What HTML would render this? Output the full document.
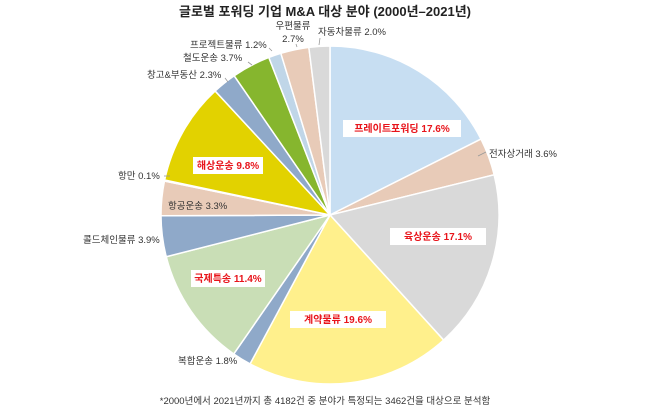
<!DOCTYPE html>
<html><head><meta charset="utf-8"><style>
body{margin:0;background:#fff;width:650px;height:412px;overflow:hidden;font-family:"Liberation Sans","Noto Sans CJK KR",sans-serif}
svg text{font-family:"Liberation Sans","Noto Sans CJK KR",sans-serif}
</style></head><body>
<svg id="s" width="650" height="412" xmlns="http://www.w3.org/2000/svg">
<text x="325" y="16" text-anchor="middle" font-size="13" font-weight="bold" fill="#222">글로벌 포워딩 기업 M&amp;A 대상 분야 (2000년–2021년)</text>
<g id="pie"></g>
<g stroke="#999" stroke-width="0.8">
<line x1="486" y1="152" x2="478" y2="156"/>
<line x1="164" y1="176" x2="170" y2="176"/>
<line x1="225" y1="78" x2="228" y2="82"/>
<line x1="248" y1="62" x2="252" y2="65"/>
<line x1="269" y1="48" x2="272" y2="51"/>
<line x1="296" y1="44" x2="297" y2="47"/>
<line x1="320" y1="38" x2="319" y2="45"/>
</g>
<g font-size="9.5" fill="#333">
<text x="489" y="157">전자상거래 3.6%</text>
<text x="178" y="364">복합운송 1.8%</text>
<text x="83" y="243">콜드체인물류 3.9%</text>
<text x="168" y="209">항공운송 3.3%</text>
<text x="118" y="179">항만 0.1%</text>
<text x="147" y="78">창고&amp;부동산 2.3%</text>
<text x="183" y="61">철도운송 3.7%</text>
<text x="190" y="48">프로젝트물류 1.2%</text>
<text x="293" y="29" text-anchor="middle">우편물류</text>
<text x="293" y="42" text-anchor="middle">2.7%</text>
<text x="318" y="35">자동차물류 2.0%</text>
</g>
<g font-size="10" font-weight="bold" fill="#e8141b" text-anchor="middle">
<rect x="343" y="120" width="118" height="17" fill="#fff"/><text x="402" y="132">프레이트포워딩 17.6%</text>
<rect x="390" y="228" width="96" height="17" fill="#fff"/><text x="438" y="240">육상운송 17.1%</text>
<rect x="290" y="311" width="96" height="17" fill="#fff"/><text x="338" y="323">계약물류 19.6%</text>
<rect x="191" y="270" width="74" height="17" fill="#fff"/><text x="228" y="282">국제특송 11.4%</text>
<rect x="193" y="157" width="70" height="17" fill="#fff"/><text x="228" y="169">해상운송 9.8%</text>
</g>
<text x="325" y="404" text-anchor="middle" font-size="9.5" fill="#333">*2000년에서 2021년까지 총 4182건 중 분야가 특정되는 3462건을 대상으로 분석함</text>
</svg>
<script>
var d=[[17.6,"#c7def2"],[3.6,"#e8cbb8"],[17.1,"#d9d9d9"],[19.6,"#fff08c"],[1.8,"#8fa9c9"],[11.4,"#c9deb6"],[3.9,"#8fa9c9"],[3.3,"#e8cbb8"],[0.1,"#d9d9d9"],[9.8,"#e2d200"],[2.3,"#8fa9c9"],[3.7,"#86b62e"],[1.2,"#c0d6e8"],[2.7,"#e8cbb8"],[2.0,"#d9d9d9"]];
var cx=330,cy=215,r=169,a=0,tot=100.1,g=document.getElementById('pie'),h='';
d.forEach(function(s){var b=a+s[0]/tot*2*Math.PI;
var x1=cx+r*Math.sin(a),y1=cy-r*Math.cos(a),x2=cx+r*Math.sin(b),y2=cy-r*Math.cos(b);
h+='<path d="M'+cx+','+cy+'L'+x1+','+y1+'A'+r+','+r+' 0 '+((b-a)>Math.PI?1:0)+' 1 '+x2+','+y2+'Z" fill="'+s[1]+'" stroke="#fff" stroke-width="1.5"/>';a=b;});
g.innerHTML=h;
</script>
</body></html>
